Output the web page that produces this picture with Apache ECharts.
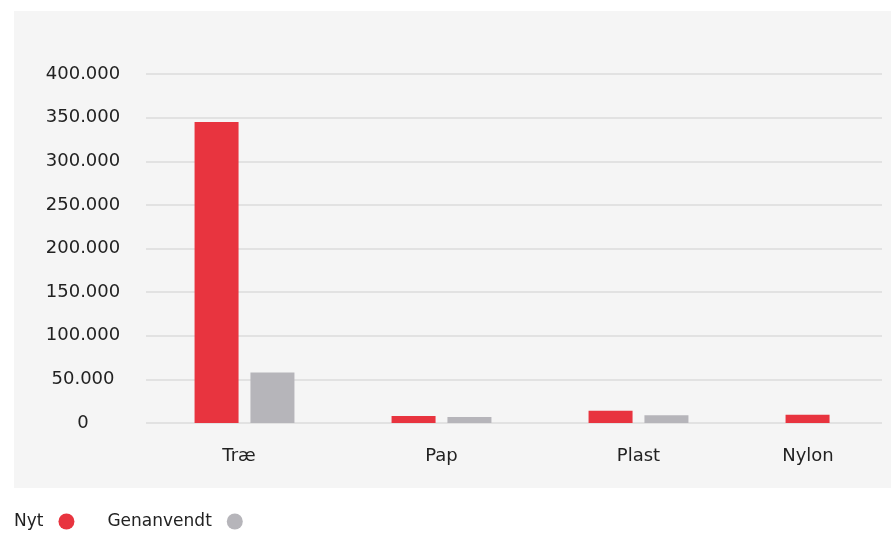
<!DOCTYPE html>
<html>
<head>
<meta charset="utf-8">
<script src="https://cdn.jsdelivr.net/npm/echarts@6/dist/echarts.min.js"></script>
<style>
  html, body { margin: 0; padding: 0; background: #ffffff; overflow: hidden; }
  #panel { position: absolute; left: 14px; top: 11px; width: 877px; height: 477px; background: #f5f5f5; }
  #clip { position: absolute; left: 0; top: 0; width: 882px; height: 533px; overflow: hidden; }
  #chart { position: absolute; left: 0; top: 0; width: 940px; height: 533px; }
</style>
</head>
<body>
<div id="panel"></div>
<div id="clip"><div id="chart"></div></div>
<script>
const categories = ['Træ', 'Pap', 'Plast', 'Nylon'];
const nytValues = [345000, 8000, 14000, 9500];
const genanvendtValues = [58000, 7000, 9000, null];
const seriesNames = ['Nyt', 'Genanvendt'];
const yTicks = { min: 0, max: 400000, interval: 50000 };

const FONT = 'DejaVu Sans';
const TXT = '#222222';

function fmt(v) {
  return String(v).replace(/\B(?=(\d{3})+(?!\d))/g, '.');
}

const chart = echarts.init(document.getElementById('chart'), null, { renderer: 'canvas' });
chart.setOption({
  backgroundColor: 'transparent',
  animation: false,
  grid: { left: 146, top: 74, right: 6, bottom: 110, containLabel: false },
  legend: {
    left: 14, top: 513,
    padding: 0,
    align: 'right',
    icon: 'circle',
    itemWidth: 36, itemHeight: 16,
    itemGap: 33,
    textStyle: { fontFamily: FONT, fontSize: 17, color: TXT },
    data: seriesNames
  },
  xAxis: {
    type: 'category',
    data: categories,
    axisLine: { show: false },
    axisTick: { show: false },
    axisLabel: {
      margin: 24,
      fontFamily: FONT, fontSize: 18, color: TXT,
      formatter: function (v) {
        if (v === 'Nylon') return '{n|' + v + '}';
        if (v === 'Træ') return '{t|' + v + '}';
        return v;
      },
      rich: {
        n: { fontFamily: FONT, fontSize: 18, color: TXT, padding: [0, 55, 0, 0] },
        t: { fontFamily: FONT, fontSize: 18, color: TXT, padding: [0, 11, 0, 0] }
      }
    }
  },
  yAxis: {
    type: 'value',
    min: yTicks.min, max: yTicks.max, interval: yTicks.interval,
    axisLine: { show: false },
    axisTick: { show: false },
    splitLine: { lineStyle: { color: '#e2e2e2', width: 2 } },
    axisLabel: {
      margin: 63,
      align: 'center',
      fontFamily: FONT, fontSize: 18, color: TXT,
      padding: [0, 0, 5, 0],
      formatter: fmt
    }
  },
  series: [
    {
      name: seriesNames[0], type: 'bar', data: nytValues,
      barWidth: 44, barGap: '27%',
      itemStyle: { color: '#e8343f' }
    },
    {
      name: seriesNames[1], type: 'bar', data: genanvendtValues,
      barWidth: 44, barGap: '27%',
      itemStyle: { color: '#b6b5ba' }
    }
  ]
});
</script>
</body>
</html>
